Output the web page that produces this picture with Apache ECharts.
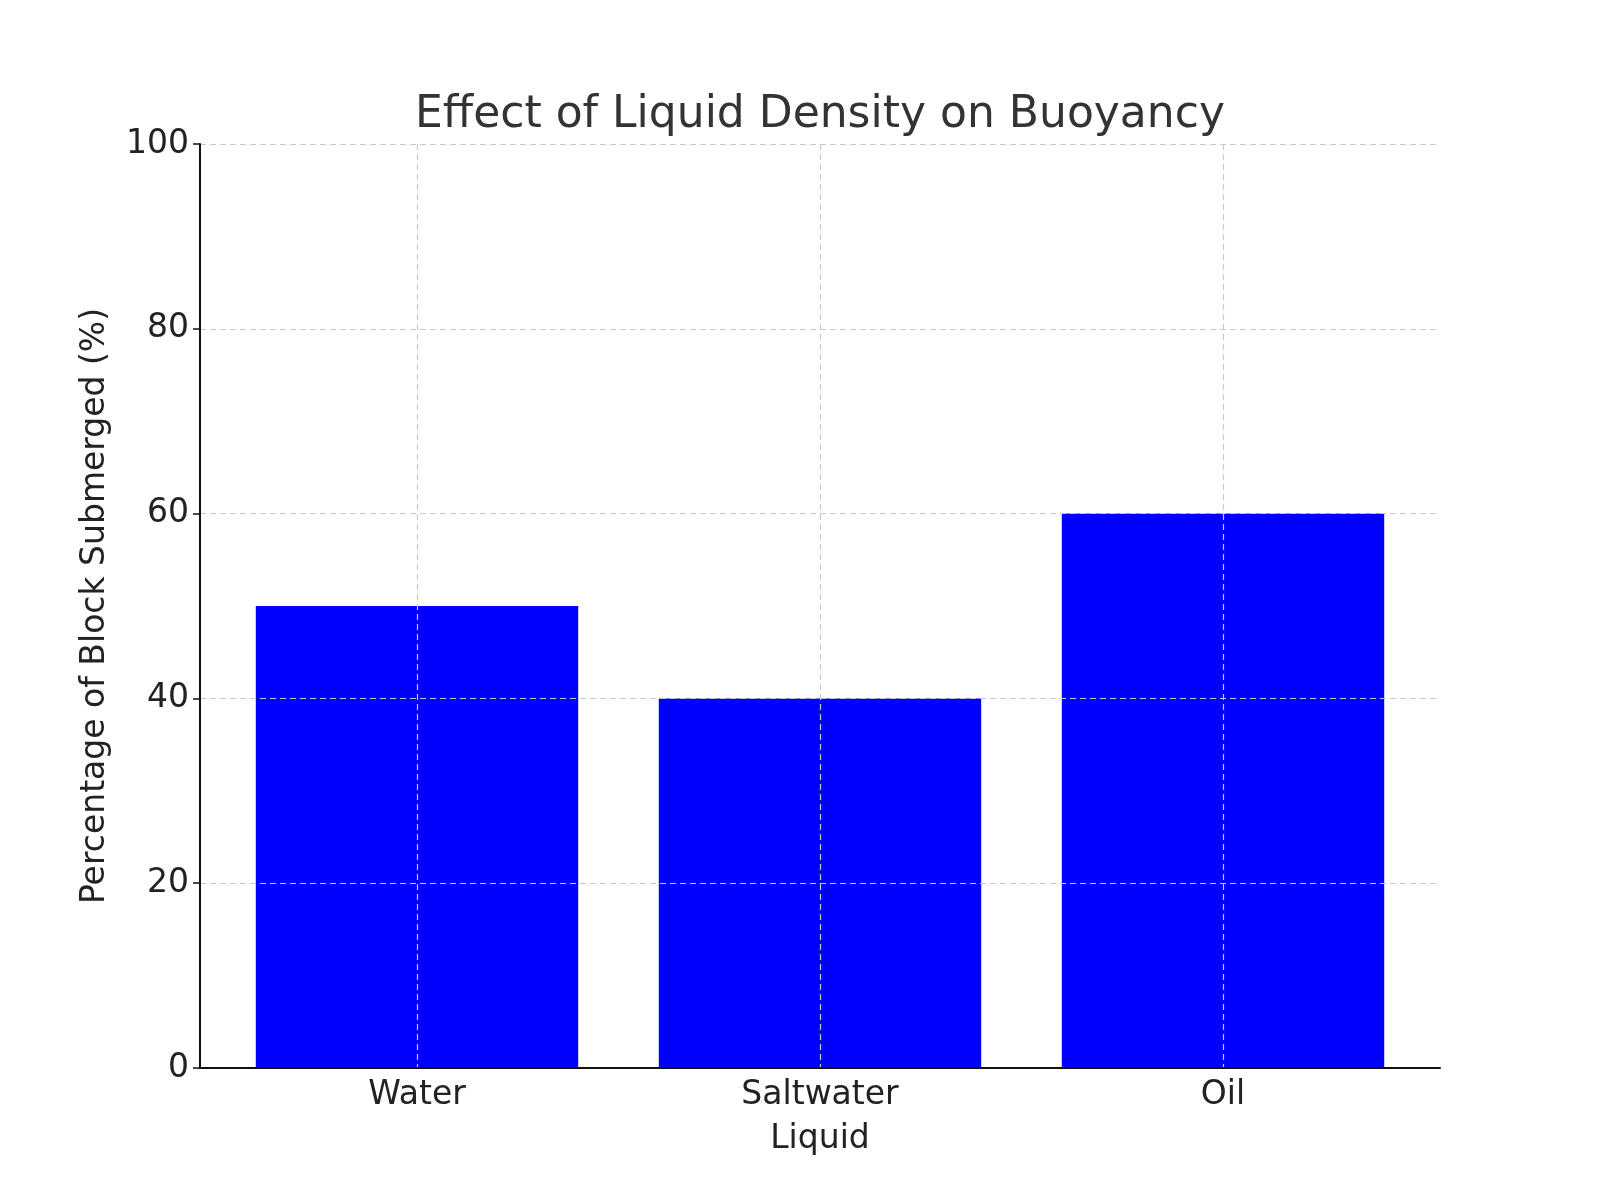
<!DOCTYPE html>
<html>

<head>
    <meta charset="utf-8">
</head>

<body style="height: 100%; margin: 0">
    <div id="container" style="width: 1600px; height: 1200px"></div>
    <script type="text/javascript" src="https://cdn.jsdelivr.net/npm/echarts@6/dist/echarts.min.js"></script>
    <script>
        var liquids = ['Water', 'Saltwater', 'Oil']
        var submerged = [50, 40, 60]
        var yTicks = [0, 20, 40, 60, 80, 100]

        var font = 'DejaVu Sans'
        var dash = { type: [6, 4], color: '#c8c8c8', width: 1.2 }
        var myChart = echarts.init(document.getElementById('container'))
        // grid 0 carries the frame (axis lines, y ticks, horizontal grid),
        // grid 1 is a bit narrower and carries the bars, like matplotlib's x margins
        var option = {
            backgroundColor: '#fff',
            animation: false,
            title: {
                text: 'Effect of Liquid Density on Buoyancy',
                left: 815,
                textAlign: 'center',
                top: 89,
                textStyle: {
                    fontFamily: font,
                    fontSize: 44,
                    fontWeight: 'normal',
                    color: '#333'
                }
            },
            grid: [
                { left: 200, right: 160, top: 144, bottom: 132 },
                { left: 215.5, right: 175.5, top: 144, bottom: 132 }
            ],
            xAxis: [{
                type: 'value',
                gridIndex: 0,
                min: 0,
                max: 1,
                z: 3,
                axisLine: { show: true, onZero: false, lineStyle: { color: '#111', width: 2 } },
                axisTick: { show: false },
                axisLabel: { show: false },
                splitLine: { show: false }
            }, {
                type: 'category',
                gridIndex: 1,
                data: liquids,
                z: 3,
                name: 'Liquid',
                nameLocation: 'middle',
                nameGap: 55,
                nameTextStyle: { fontFamily: font, fontSize: 33, color: '#222' },
                axisLine: { show: false },
                axisTick: { alignWithLabel: true, length: 7, lineStyle: { color: '#111', width: 1.5 } },
                axisLabel: { fontFamily: font, fontSize: 33, color: '#222', margin: 11 },
                splitLine: { show: true, alignWithLabel: true, lineStyle: dash }
            }],
            yAxis: [{
                type: 'value',
                gridIndex: 0,
                min: yTicks[0],
                max: yTicks[yTicks.length - 1],
                interval: 20,
                z: 3,
                name: 'Percentage of Block Submerged (%)',
                nameLocation: 'middle',
                nameGap: 88,
                nameTextStyle: { fontFamily: font, fontSize: 33, color: '#222' },
                axisLine: { show: true, lineStyle: { color: '#111', width: 2 } },
                axisTick: { show: true, length: 7, lineStyle: { color: '#111', width: 1.5 } },
                axisLabel: { fontFamily: font, fontSize: 33, color: '#222', margin: 11 },
                splitLine: { show: true, lineStyle: dash }
            }, {
                type: 'value',
                gridIndex: 1,
                min: yTicks[0],
                max: yTicks[yTicks.length - 1],
                interval: 20,
                axisLine: { show: false },
                axisTick: { show: false },
                axisLabel: { show: false },
                splitLine: { show: false }
            }],
            series: [{
                type: 'bar',
                xAxisIndex: 1,
                yAxisIndex: 1,
                data: submerged,
                barWidth: '80%',
                z: 1,
                itemStyle: { color: '#0000ff' }
            }]
        }
        myChart.setOption(option)
    </script>

</body>

</html>
